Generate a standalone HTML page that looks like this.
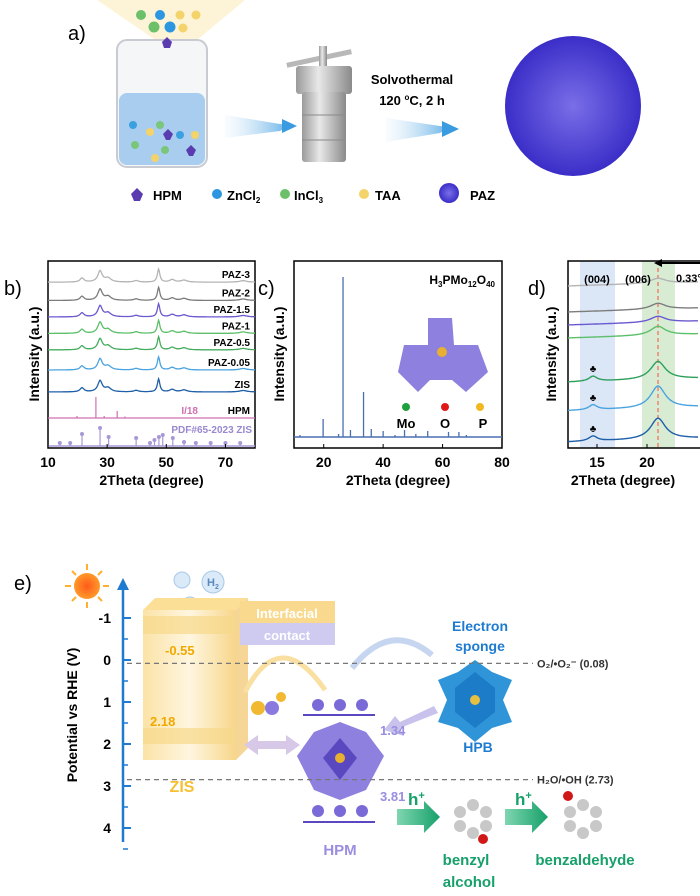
<!DOCTYPE html>
<html><head><meta charset="utf-8"><style>
html,body{margin:0;padding:0;background:#fff;}
body{width:700px;height:891px;overflow:hidden;font-family:"Liberation Sans",Arial,sans-serif;}
svg text{font-family:"Liberation Sans",Arial,sans-serif;}
</style></head><body>
<svg id="fig" width="700" height="891" viewBox="0 0 700 891" xmlns="http://www.w3.org/2000/svg">
<defs>
<radialGradient id="sph" cx="0.5" cy="0.5" r="0.5"><stop offset="0" stop-color="#7a6ee8"/><stop offset="1" stop-color="#3a2ec8"/></radialGradient>
<radialGradient id="sun" cx="0.5" cy="0.5" r="0.5"><stop offset="0" stop-color="#ff5a1a"/><stop offset="1" stop-color="#ff9a2a"/></radialGradient>
<linearGradient id="beam" x1="0" y1="0" x2="1" y2="0"><stop offset="0" stop-color="#e6f2fb" stop-opacity="0.3"/><stop offset="1" stop-color="#3a9be0"/></linearGradient>
<linearGradient id="zis" x1="0" y1="0" x2="1" y2="0"><stop offset="0" stop-color="#fbe3a6"/><stop offset="0.5" stop-color="#fff6e0"/><stop offset="1" stop-color="#f7d68a"/></linearGradient>
<linearGradient id="steel" x1="0" y1="0" x2="1" y2="0"><stop offset="0" stop-color="#9a9a9a"/><stop offset="0.4" stop-color="#e8e8e8"/><stop offset="1" stop-color="#8a8a8a"/></linearGradient>
<linearGradient id="garrow" x1="0" y1="0" x2="1" y2="0"><stop offset="0" stop-color="#7fd6b0"/><stop offset="1" stop-color="#16a06a"/></linearGradient>
</defs>

<!-- PANEL A -->
<g>
<text x="68" y="40" font-size="20">a)</text>
<polygon points="97,0 245,0 185,50 170,50" fill="#fcefc8" opacity="0.7"/>
<g>
<rect x="117" y="40" width="90" height="127" rx="10" fill="#f4f6f8" stroke="#c8ccd2" stroke-width="2"/>
<rect x="119" y="93" width="86" height="72" rx="8" fill="#a9cdee"/>
<circle cx="133" cy="125" r="4" fill="#3aa0e0"/><circle cx="160" cy="125" r="4" fill="#7cc67a"/>
<circle cx="150" cy="132" r="4" fill="#f3d36a"/><circle cx="180" cy="135" r="4" fill="#3aa0e0"/>
<circle cx="135" cy="145" r="4" fill="#7cc67a"/><circle cx="165" cy="150" r="4" fill="#7cc67a"/>
<circle cx="155" cy="158" r="4" fill="#f3d36a"/><circle cx="195" cy="135" r="4" fill="#f3d36a"/>
<polygon points="163,134 168,129 173,134 170,140 166,140" fill="#5a3cb0"/>
<polygon points="186,150 191,145 196,150 193,156 189,156" fill="#5a3cb0"/>
</g>
<circle cx="141" cy="15" r="5" fill="#6cc06a"/><circle cx="160" cy="15" r="5" fill="#2c96e0"/><circle cx="180" cy="15" r="4.5" fill="#f3d36a"/><circle cx="196" cy="15" r="4.5" fill="#f3d36a"/>
<circle cx="154" cy="27" r="5.5" fill="#6cc06a"/><circle cx="170" cy="27" r="5.5" fill="#2c96e0"/><circle cx="183" cy="28" r="4.5" fill="#f3d36a"/>
<polygon points="162,42 167,37 172,42 170,48 164,48" fill="#5a3cb0"/>
<polygon points="225,115 280,124 290,125 280,131 225,138" fill="url(#beam)" opacity="0.8"/>
<polygon points="282,119 297,126 282,133" fill="#3a9be0"/>
<g>
<rect x="286" y="56" width="66" height="5" fill="#b8b8b8" transform="rotate(-12 319 58)"/>
<rect x="319" y="46" width="8" height="22" fill="url(#steel)"/>
<rect x="296" y="66" width="56" height="28" rx="3" fill="url(#steel)"/>
<rect x="302" y="92" width="44" height="70" rx="3" fill="url(#steel)"/>
<line x1="302" y1="115" x2="346" y2="115" stroke="#8a8a8a"/><line x1="302" y1="140" x2="346" y2="140" stroke="#8a8a8a"/>
</g>
<polygon points="386,118 440,126 450,127 440,133 386,142" fill="url(#beam)" opacity="0.8"/>
<polygon points="442,121 459,129 442,137" fill="#3a9be0"/>
<text x="412" y="84" font-size="13" font-weight="bold" text-anchor="middle">Solvothermal</text>
<text x="412" y="105" font-size="13" font-weight="bold" text-anchor="middle">120 <tspan font-size="8" dy="-5">o</tspan><tspan dy="5">C, 2 h</tspan></text>
<ellipse cx="573" cy="106" rx="68" ry="70" fill="url(#sph)"/>
<g font-size="13" font-weight="bold">
<polygon points="131,194 137,188 143,194 140,201 134,201" fill="#5a3cb0"/><text x="153" y="200">HPM</text>
<circle cx="217" cy="194" r="5" fill="#2c96e0"/><text x="227" y="200">ZnCl<tspan font-size="8" dy="3">2</tspan></text>
<circle cx="285" cy="194" r="5" fill="#6cc06a"/><text x="294" y="200">InCl<tspan font-size="8" dy="3">3</tspan></text>
<circle cx="364" cy="194" r="5" fill="#f3d36a"/><text x="375" y="200">TAA</text>
<circle cx="449" cy="193" r="10" fill="url(#sph)"/><text x="470" y="200">PAZ</text>
</g>
</g>

<g id="pb"></g>
<g id="pc"></g>
<g id="pd"></g>

<!-- PANEL E static parts -->
<g>
<text x="14" y="590" font-size="20">e)</text>
<g stroke="#ffb030" stroke-width="2">
<line x1="87" y1="564" x2="87" y2="570"/><line x1="87" y1="602" x2="87" y2="608"/><line x1="65" y1="586" x2="71" y2="586"/><line x1="103" y1="586" x2="109" y2="586"/>
<line x1="72" y1="571" x2="76" y2="575"/><line x1="98" y1="597" x2="102" y2="601"/><line x1="72" y1="601" x2="76" y2="597"/><line x1="98" y1="575" x2="102" y2="571"/>
<circle cx="87" cy="586" r="13" fill="url(#sun)" stroke="none"/></g>
<g fill="#dbeaf8" stroke="#a8c8e8">
<circle cx="213" cy="582" r="11"/><circle cx="182" cy="580" r="8"/><circle cx="190" cy="605" r="8"/><circle cx="170" cy="610" r="7"/></g>
<text x="207" y="586" font-size="11" font-weight="bold" fill="#5a88c0">H<tspan font-size="7" dy="3">2</tspan></text>
<g>
<polygon points="143,610 155,598 248,598 236,610" fill="#fcdf96"/>
<rect x="143" y="610" width="93" height="150" fill="url(#zis)"/>
<polygon points="236,610 248,598 248,748 236,760" fill="#f2c56a" opacity="0.7"/>
<rect x="143" y="616" width="93" height="18" fill="#f7d88a" opacity="0.7"/>
<rect x="143" y="728" width="93" height="16" fill="#f7d88a" opacity="0.7"/>
</g>
<g>
<rect x="240" y="601" width="95" height="22" fill="#f8d98e"/>
<rect x="240" y="623" width="95" height="22" fill="#cfcaf0"/>
<text x="287" y="618" font-size="13" font-weight="bold" fill="#fff" text-anchor="middle">Interfacial</text>
<text x="287" y="640" font-size="13" font-weight="bold" fill="#fff" text-anchor="middle">contact</text>
</g>
<path d="M245,692 Q280,625 325,690" fill="none" stroke="#f9dfa0" stroke-width="5"/>
<circle cx="281" cy="697" r="5" fill="#f2b830"/>
<path d="M352,668 Q390,620 432,655" fill="none" stroke="#c6d6f0" stroke-width="6"/>
<text x="480" y="631" font-size="14" font-weight="bold" fill="#1e7bd0" text-anchor="middle">Electron</text>
<text x="480" y="651" font-size="14" font-weight="bold" fill="#1e7bd0" text-anchor="middle">sponge</text>
<g>
<polygon points="475,660 492,672 512,680 503,700 512,722 492,728 475,742 458,728 438,722 447,700 438,680 458,672" fill="#2f95d8"/>
<polygon points="475,672 495,688 495,712 475,728 455,712 455,688" fill="#1d7cc8"/>
<circle cx="475" cy="700" r="5" fill="#e8c040"/>
</g>
<text x="478" y="752" font-size="14" font-weight="bold" fill="#1e7bd0" text-anchor="middle">HPB</text>
<polygon points="438,713 400,728 404,736 384,730 395,716 400,722 434,706" fill="#c8c2ec"/>
<g>
<polygon points="340,722 366,732 384,756 366,790 340,800 314,790 297,756 314,732" fill="#7a6ad8" opacity="0.85"/>
<polygon points="340,738 357,758 340,780 323,758" fill="#5a48c0"/>
<circle cx="340" cy="758" r="5" fill="#e8b030"/>
</g>
<g>
<line x1="303" y1="715" x2="375" y2="715" stroke="#5a48c0" stroke-width="2"/>
<line x1="303" y1="822" x2="375" y2="822" stroke="#5a48c0" stroke-width="2"/>
<circle cx="318" cy="705" r="6" fill="#7a6ad8"/><circle cx="340" cy="705" r="6" fill="#7a6ad8"/><circle cx="362" cy="705" r="6" fill="#7a6ad8"/>
<circle cx="318" cy="811" r="6" fill="#7a6ad8"/><circle cx="340" cy="811" r="6" fill="#7a6ad8"/><circle cx="362" cy="811" r="6" fill="#7a6ad8"/>
</g>
<text x="380" y="735" font-size="13" font-weight="bold" fill="#9a8ee0">1.34</text>
<text x="380" y="801" font-size="13" font-weight="bold" fill="#9a8ee0">3.81</text>
<text x="340" y="855" font-size="15" font-weight="bold" fill="#9a8ee0" text-anchor="middle">HPM</text>
<circle cx="258" cy="708" r="7" fill="#f2b830"/><circle cx="272" cy="708" r="7" fill="#8a7ae0"/>
<polygon points="244,745 258,735 258,741 286,741 286,735 300,745 286,755 286,749 258,749 258,755" fill="#d8c8e8"/>
<text x="165" y="655" font-size="13" font-weight="bold" fill="#f2a800">-0.55</text>
<text x="150" y="726" font-size="13" font-weight="bold" fill="#f2a800">2.18</text>
<text x="182" y="792" font-size="16" font-weight="bold" fill="#f7c030" text-anchor="middle">ZIS</text>
<g>
<polygon points="397,809 424,809 424,801 440,817 424,833 424,825 397,825" fill="url(#garrow)"/>
<polygon points="505,809 532,809 532,801 548,817 532,833 532,825 505,825" fill="url(#garrow)"/>
<text x="408" y="805" font-size="17" font-weight="bold" fill="#16a06a">h<tspan font-size="11" dy="-6">+</tspan></text>
<text x="515" y="805" font-size="17" font-weight="bold" fill="#16a06a">h<tspan font-size="11" dy="-6">+</tspan></text>
</g>
<g fill="#c8c8c8">
<circle cx="460" cy="812" r="6"/><circle cx="473" cy="805" r="6"/><circle cx="486" cy="812" r="6"/><circle cx="486" cy="826" r="6"/><circle cx="473" cy="833" r="6"/><circle cx="460" cy="826" r="6"/>
<circle cx="483" cy="839" r="5" fill="#d01818"/></g>
<g fill="#c8c8c8">
<circle cx="570" cy="812" r="6"/><circle cx="583" cy="805" r="6"/><circle cx="596" cy="812" r="6"/><circle cx="596" cy="826" r="6"/><circle cx="583" cy="833" r="6"/><circle cx="570" cy="826" r="6"/>
<circle cx="568" cy="796" r="5" fill="#d01818"/></g>
<text x="466" y="865" font-size="15" font-weight="bold" fill="#16a06a" text-anchor="middle">benzyl</text>
<text x="469" y="887" font-size="15" font-weight="bold" fill="#16a06a" text-anchor="middle">alcohol</text>
<text x="585" y="865" font-size="15" font-weight="bold" fill="#16a06a" text-anchor="middle">benzaldehyde</text>
</g>
<g id="pe"></g>
</svg>
<script>
// ===== Panel b data =====
const bSeries = ["PAZ-3","PAZ-2","PAZ-1.5","PAZ-1","PAZ-0.5","PAZ-0.05","ZIS"];
const bColors = ["#b4b4b4","#7c7c7c","#6a5ad0","#5cbf6a","#46ad5e","#4aa3e0","#1f5fa8"];
const bOffsets = [6,5,4.1,3.2,2.3,1.2,0];
const zisPeakPos = [21.5,27.6,30.3,39.8,47.4,52.0,56.0,76.0];
const zisPeakHeight = [4,11,4,1.5,13,2.5,2,1.5];
const zisPeakWidth = [0.8,0.9,1.2,1.0,0.5,1.0,1.2,1.5];
const bTicks = [10,30,50,70];
const hpmPos = [19.8,26.2,29.0,33.4,36.0];
const hpmHeight = [2,21,2,7,1.5];
const pdfPos = [14,17.5,21.5,27.6,30.5,39.8,44.5,46,47.5,48.8,52.2,56,60,65,70,75];
const pdfHeight = [3,3,12,18,9,8,3,6,9,11,8,4,3,3,3,3];
// ===== Panel c data =====
const cPos = [12,19.8,25,26.5,29,33.4,36,40,44,47.2,51,55,62,65.5,68];
const cHeight = [2,18,3,160,7,45,8,6,2,7,3,6,5,5,2];
const cTicks = [20,40,60,80];
// ===== Panel d data =====
const dColors = ["#b4b4b4","#7c7c7c","#6a5ad0","#5cbf6a","#2ca05a","#4aa3e0","#1f5fa8"];
const dBase = [6,5,4.5,4,2.3,1.2,0];
const dPeak006 = [5,6,6,9,18,22,21];
const dPeak004 = [0,0,0,0,5,5,5];
const dTicks = [15,20];
// ===== Panel e data =====
const eTicks = [-1,0,1,2,3,4];
const eRefLevels = [0.08,2.73];
const eRefLabels = ["O\u2082/\u2022O\u2082\u207B (0.08)","H\u2082O/\u2022OH (2.73)"];

const NS="http://www.w3.org/2000/svg";
function mk(tag,attrs,parent,txt){const e=document.createElementNS(NS,tag);for(const k in attrs)e.setAttribute(k,attrs[k]);if(txt!==undefined)e.textContent=txt;parent.appendChild(e);return e;}
function lor(x,pos,h,w){let s=0;for(let i=0;i<pos.length;i++){const d=(x-pos[i])/w[i];s+=h[i]/(1+d*d);}return s;}

// ----- Panel B -----
(function(){
const g=document.getElementById('pb');
const x0=48,x1=255,yT=261,yB=448;
const xs=v=>x0+(v-10)/(80-10)*(x1-x0);
const ys=o=>392-o*18.3;
mk('text',{x:4,y:295,'font-size':20},g,'b)');
mk('rect',{x:x0,y:yT,width:x1-x0,height:yB-yT,fill:'none',stroke:'#000','stroke-width':1.5},g);
bSeries.forEach((name,i)=>{
 let d='';for(let t=10;t<=80.01;t+=0.2){const y=ys(bOffsets[i])-lor(t,zisPeakPos,zisPeakHeight,zisPeakWidth);d+=(d?'L':'M')+xs(t).toFixed(1)+','+y.toFixed(1);}
 const p=mk('path',{d:d,fill:'none',stroke:bColors[i],'stroke-width':1.3},g);
 
 
 const t=mk('text',{x:250,y:ys(bOffsets[i])-4,'font-size':10,'font-weight':'bold','text-anchor':'end'},g,name);
 
 
});
const hb=418;
mk('line',{x1:x0,y1:hb,x2:x1,y2:hb,stroke:'#d070b0','stroke-width':1.3},g);
hpmPos.forEach((p,i)=>{const l=mk('line',{x1:xs(p),y1:hb,x2:xs(p),y2:hb-hpmHeight[i],stroke:'#d070b0','stroke-width':1.2},g);
 
 });
mk('text',{x:198,y:414,'font-size':10,'font-weight':'bold',fill:'#d070b0','text-anchor':'end'},g,'I/18');
mk('text',{x:250,y:414,'font-size':10,'font-weight':'bold','text-anchor':'end'},g,'HPM');
const pb=446;
mk('line',{x1:x0,y1:pb,x2:x1,y2:pb,stroke:'#a898d8','stroke-width':1.5},g);
pdfPos.forEach((p,i)=>{const l=mk('line',{x1:xs(p),y1:pb,x2:xs(p),y2:pb-pdfHeight[i],stroke:'#a898d8','stroke-width':1.2},g);
 
 
 mk('circle',{cx:xs(p),cy:pb-pdfHeight[i],r:2,fill:'#a898d8'},g);});
mk('text',{x:252,y:433,'font-size':10,'font-weight':'bold',fill:'#9a88d0','text-anchor':'end','font-family':'Liberation Serif'},g,'PDF#65-2023 ZIS');
bTicks.forEach(v=>{mk('line',{x1:xs(v),y1:yB,x2:xs(v),y2:yB-4,stroke:'#000'},g);const t=mk('text',{x:xs(v),y:467,'font-size':14,'font-weight':'bold','text-anchor':'middle'},g,String(v));
 
 });
mk('text',{x:(x0+x1)/2,y:485,'font-size':14,'font-weight':'bold','text-anchor':'middle'},g,'2Theta (degree)');
mk('text',{x:0,y:0,'font-size':14,'font-weight':'bold','text-anchor':'middle',transform:'translate(39,354) rotate(-90)'},g,'Intensity (a.u.)');
})();

// ----- Panel C -----
(function(){
const g=document.getElementById('pc');
const x0=294,x1=502,yT=261,yB=448,base=437;
const xs=v=>x0+(v-10)/(80-10)*(x1-x0);
mk('text',{x:258,y:295,'font-size':20},g,'c)');
mk('rect',{x:x0,y:yT,width:x1-x0,height:yB-yT,fill:'none',stroke:'#000','stroke-width':1.5},g);
mk('line',{x1:x0,y1:base,x2:x1,y2:base,stroke:'#4a6fb0','stroke-width':1.5},g);
cPos.forEach((p,i)=>{const l=mk('line',{x1:xs(p),y1:base,x2:xs(p),y2:base-cHeight[i],stroke:'#4a6fb0','stroke-width':1.3},g);
 
 });
mk('text',{x:495,y:284,'font-size':12,'font-weight':'bold','text-anchor':'end'},g).innerHTML='H<tspan font-size="8" dy="3">3</tspan><tspan dy="-3">PMo</tspan><tspan font-size="8" dy="3">12</tspan><tspan dy="-3">O</tspan><tspan font-size="8" dy="3">40</tspan>';
const cl=mk('g',{},g);
mk('polygon',{points:'428,318 452,318 454,345 478,345 488,372 466,392 452,380 430,380 418,392 398,372 404,345 428,345',fill:'#7a6ad8',opacity:0.85},cl);
mk('circle',{cx:442,cy:352,r:5,fill:'#e8b030'},cl);
mk('circle',{cx:406,cy:407,r:4,fill:'#1fa040'},g);mk('circle',{cx:445,cy:407,r:4,fill:'#e01818'},g);mk('circle',{cx:480,cy:407,r:4,fill:'#f2b820'},g);
mk('text',{x:406,y:428,'font-size':13,'font-weight':'bold','text-anchor':'middle'},g,'Mo');
mk('text',{x:445,y:428,'font-size':13,'font-weight':'bold','text-anchor':'middle'},g,'O');
mk('text',{x:483,y:428,'font-size':13,'font-weight':'bold','text-anchor':'middle'},g,'P');
cTicks.forEach(v=>{mk('line',{x1:xs(v),y1:yB,x2:xs(v),y2:yB-4,stroke:'#000'},g);const t=mk('text',{x:xs(v),y:467,'font-size':14,'font-weight':'bold','text-anchor':'middle'},g,String(v));
 
 });
mk('text',{x:(x0+x1)/2,y:485,'font-size':14,'font-weight':'bold','text-anchor':'middle'},g,'2Theta (degree)');
mk('text',{x:0,y:0,'font-size':14,'font-weight':'bold','text-anchor':'middle',transform:'translate(284,354) rotate(-90)'},g,'Intensity (a.u.)');
})();

// ----- Panel D -----
(function(){
const g=document.getElementById('pd');
const x0=568,x1=712,yT=261,yB=448;
const xs=v=>x0+(v-12.1)*10;
const ys=o=>442-o*26;
mk('text',{x:528,y:295,'font-size':20},g,'d)');
mk('rect',{x:xs(13.3),y:yT,width:xs(16.8)-xs(13.3),height:yB-yT,fill:'#dbe6f6'},g);
mk('rect',{x:xs(19.5),y:yT,width:xs(22.8)-xs(19.5),height:yB-yT,fill:'#d8ecd4'},g);
mk('rect',{x:x0,y:yT,width:x1-x0,height:yB-yT,fill:'none',stroke:'#000','stroke-width':1.5},g);
mk('line',{x1:xs(21.1),y1:yT,x2:xs(21.1),y2:yB,stroke:'#f08070','stroke-width':1.5,'stroke-dasharray':'4,3'},g);
dColors.forEach((c,i)=>{
 let d='';for(let t=12.1;t<=25.2;t+=0.1){const y=ys(dBase[i])-lor(t,[14.6,21.1],[dPeak004[i],dPeak006[i]],[0.5,0.9])+ (t-12)*-0.3;d+=(d?'L':'M')+xs(t).toFixed(1)+','+y.toFixed(1);}
 const p=mk('path',{d:d,fill:'none',stroke:c,'stroke-width':1.4},g);
 
 
 if(dPeak004[i]>0){mk('text',{x:xs(14.6),y:ys(dBase[i])-dPeak004[i]-5,'font-size':10,'text-anchor':'middle'},g,'\u2663');}
});
mk('text',{x:xs(15),y:283,'font-size':11,'font-weight':'bold','text-anchor':'middle'},g,'(004)');
mk('text',{x:xs(19.1),y:283,'font-size':11,'font-weight':'bold','text-anchor':'middle'},g,'(006)');
mk('text',{x:676,y:282,'font-size':11,'font-weight':'bold'},g,'0.33\u00B0');
mk('line',{x1:700,y1:263,x2:660,y2:263,stroke:'#000','stroke-width':2},g);
mk('polygon',{points:'654,263 662,259 662,267',fill:'#000'},g);
dTicks.forEach(v=>{mk('line',{x1:xs(v),y1:yB,x2:xs(v),y2:yB-4,stroke:'#000'},g);const t=mk('text',{x:xs(v),y:467,'font-size':14,'font-weight':'bold','text-anchor':'middle'},g,String(v));
 
 });
mk('text',{x:623,y:485,'font-size':14,'font-weight':'bold','text-anchor':'middle'},g,'2Theta (degree)');
mk('text',{x:0,y:0,'font-size':14,'font-weight':'bold','text-anchor':'middle',transform:'translate(556,354) rotate(-90)'},g,'Intensity (a.u.)');
})();

// ----- Panel E axis -----
(function(){
const g=document.getElementById('pe');
const ax=123;const ys=v=>660+v*42;
mk('line',{x1:ax,y1:842,x2:ax,y2:588,stroke:'#1e7bd0','stroke-width':2.5},g);
mk('polygon',{points:(ax-6)+',590 '+(ax+6)+',590 '+ax+',578',fill:'#1e7bd0'},g);
eTicks.forEach(v=>{mk('line',{x1:ax,y1:ys(v),x2:ax+8,y2:ys(v),stroke:'#1e7bd0','stroke-width':2},g);
 mk('line',{x1:ax,y1:ys(v+0.5),x2:ax+5,y2:ys(v+0.5),stroke:'#1e7bd0','stroke-width':1.5},g);
 const t=mk('text',{x:ax-12,y:ys(v)+5,'font-size':14,'font-weight':'bold','text-anchor':'end'},g,String(v));
 
 });
mk('text',{x:0,y:0,'font-size':14,'font-weight':'bold','text-anchor':'middle',transform:'translate(77,715) rotate(-90)'},g,'Potential vs RHE (V)');
eRefLevels.forEach((v,i)=>{const yy=ys(v)+(i===1?5:0);const l=mk('line',{x1:ax+4,y1:yy,x2:533,y2:yy,stroke:'#777','stroke-width':1.3,'stroke-dasharray':'5,4'},g);
 
 
 mk('text',{x:537,y:yy+4,'font-size':11,'font-weight':'bold',fill:'#333'},g,eRefLabels[i]);});
})();
</script>
</body></html>
